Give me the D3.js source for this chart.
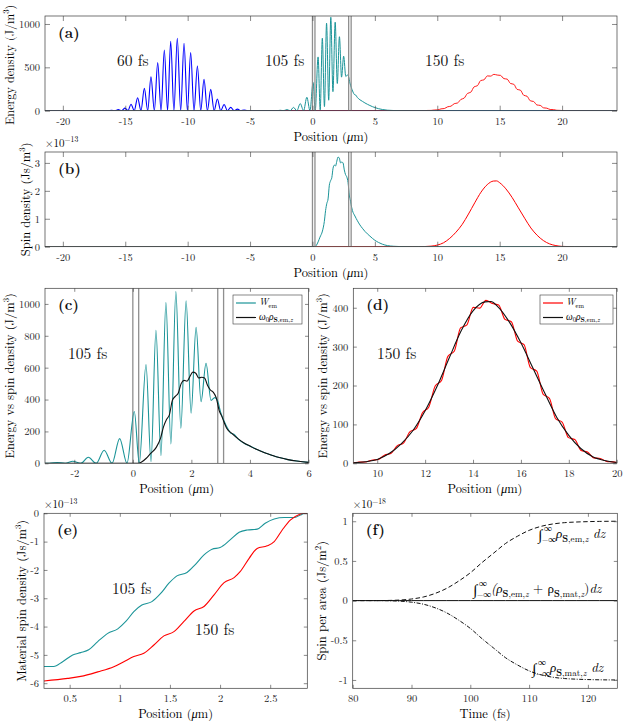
<!DOCTYPE html>
<html>
<head>
<meta charset="utf-8">
<script src="https://cdn.jsdelivr.net/npm/d3@7"></script>
<style>
  body { margin: 0; background: #fff; }
</style>
</head>
<body>
<svg id="fig" width="623" height="723"></svg>
<script>
// ---- data ----
// interfaces of the slab (um)
const interfaces = [0, 0.2, 2.9, 3.1];

// (a) energy density at 60 fs (J/m^3)
const pos60 = [-21.5, -16.6, -16.37, -16.1, -15.83, -15.56, -15.29, -15.02, -14.78, -14.54, -14.28, -14.01, -13.74, -13.47,
  -13.2, -12.94, -12.67, -12.4, -12.13, -11.87, -11.61, -11.36, -11.1, -10.83, -10.56, -10.29, -10.02, -9.76, -9.49,
  -9.22, -8.95, -8.69, -8.42, -8.15, -7.88, -7.62, -7.35, -7.08, -6.81, -6.55, -6.28, -6.01, -5.74, -5.48, -5.21, -4.9, 24.5];
const wem60 = [0, 0, 0, 4, 0, 12, 0, 30, 0, 75, 0, 150, 0, 258,
  0, 392, 0, 554, 0, 700, 0, 800, 0, 835, 0, 777, 0, 670, 0,
  515, 0, 362, 0, 246, 0, 135, 0, 72, 0, 38, 0, 18, 0, 8, 0, 0, 0];

// (a),(c) energy density at 105 fs (J/m^3)
const pos105 = [-21.5, -3.1, -2.85, -2.58, -2.31, -2.05, -1.78, -1.52, -1.25, -0.98, -0.71, -0.45, -0.2, 0.05, 0.22,
  0.45, 0.62, 0.79, 0.96, 1.13, 1.3, 1.47, 1.64, 1.82, 1.99, 2.16, 2.33, 2.5, 2.67, 2.8, 2.9, 3.0, 3.1, 3.25, 3.35,
  3.45, 3.6, 3.8, 4.0, 4.2, 4.4, 4.6, 4.8, 5.0, 5.3, 5.6, 6.0, 6.5, 7.0, 8.0, 24.5];
const wem105 = [0, 0, 0, 5, 0, 13, 0, 38, 0, 82, 0, 155, 0, 325, 0,
  620, 10, 835, 48, 1008, 121, 1077, 220, 1020, 314, 853, 387, 628, 395, 412, 390, 320, 272, 215, 188,
  182, 152, 126, 108, 90, 74, 60, 47, 36, 23, 14, 6, 2, 0.5, 0, 0];

// (c) omega0 * em spin density at 105 fs (J/m^3)
const pos105s = [-3.5, 0.2, 0.3, 0.45, 0.6, 0.8, 0.95, 1.05, 1.15, 1.25, 1.35, 1.45, 1.55, 1.65, 1.75, 1.85, 1.95, 2.05,
  2.15, 2.25, 2.35, 2.45, 2.55, 2.65, 2.75, 2.85, 2.95, 3.05, 3.1, 3.2, 3.4, 3.6, 3.8, 4.0, 4.2, 4.4, 4.6, 4.8, 5.0,
  5.3, 5.6, 6.0, 6.5];
const wspin105 = [0, 0, 8, 30, 60, 100, 160, 230, 275, 305, 395, 420, 440, 500, 520, 515, 545, 572,
  565, 535, 540, 535, 490, 460, 445, 410, 330, 290, 265, 222, 185, 153, 127, 108, 89, 74, 60, 47, 36,
  23, 14, 6, 2];

// (a),(d) energy density at 150 fs (J/m^3)
const pos150 = [-21.5, 8.7, 9.0, 9.24, 9.505, 9.77, 10.035, 10.3, 10.565, 10.83, 11.095, 11.36, 11.625, 11.89, 12.155,
  12.42, 12.685, 12.95, 13.215, 13.48, 13.745, 14.01, 14.275, 14.54, 14.805, 15.07, 15.335, 15.6, 15.865, 16.13,
  16.395, 16.66, 16.925, 17.19, 17.455, 17.72, 17.985, 18.25, 18.515, 18.78, 19.045, 19.31, 19.575, 19.84, 20.0,
  20.5, 24.5];
const wem150 = [0, 0, 1, 2.9, 3.3, 8, 9.6, 21, 25, 45, 52, 81, 89, 130, 145,
  199, 213, 275, 288, 348, 356, 401, 399, 419, 411, 407, 370, 364, 314, 305,
  246, 237, 178, 167, 114, 106, 66, 61, 33, 29, 14, 12.5, 5, 3.7, 2,
  0.5, 0];

// (d) omega0 * em spin density at 150 fs (J/m^3)
const pos150s = [9, 9.5, 10, 10.5, 11, 11.5, 12, 12.5, 13, 13.5, 14, 14.5, 14.75, 15, 15.5, 16, 16.5, 17, 17.5, 18,
  18.5, 19, 19.5, 20];
const wspin150 = [1, 4, 10, 25, 50, 85, 135, 198, 270, 340, 392, 415, 416, 405, 365, 310, 245, 180, 118, 72,
  38, 17, 7, 2];

// (b) em spin density (1e-13 Js/m^3)
const posS105 = [-21.5, 0.2, 0.3, 0.45, 0.6, 0.8, 0.95, 1.05, 1.15, 1.25, 1.35, 1.45, 1.55, 1.65, 1.75, 1.85, 1.95,
  2.05, 2.15, 2.25, 2.35, 2.45, 2.55, 2.65, 2.75, 2.85, 2.95, 3.05, 3.1, 3.2, 3.4, 3.6, 3.8, 4.0, 4.2, 4.4, 4.6, 4.8,
  5.0, 5.3, 5.6, 6.0, 6.5, 7.0, 8.0, 24.5];
const spin105 = [0, 0, 0.04, 0.17, 0.34, 0.56, 0.9, 1.29, 1.55, 1.71, 2.2, 2.36, 2.47, 2.81, 2.92, 2.89, 3.06,
  3.21, 3.17, 3.0, 3.03, 3.0, 2.75, 2.58, 2.5, 2.3, 1.85, 1.63, 1.5, 1.3, 1.1, 0.93, 0.78, 0.66, 0.55, 0.46, 0.38, 0.3,
  0.23, 0.15, 0.09, 0.04, 0.015, 0.005, 0, 0];
const posS150 = [-21.5, 0.2, 8.5, 9, 9.5, 10, 10.5, 11, 11.5, 12, 12.5, 13, 13.5, 14, 14.5, 14.75, 15, 15.5, 16, 16.5,
  17, 17.5, 18, 18.5, 19, 19.5, 20, 21, 24.5];
const spin150 = [0, 0, 0, 0.006, 0.02, 0.057, 0.14, 0.3, 0.52, 0.8, 1.17, 1.57, 1.95, 2.22, 2.35, 2.355, 2.29,
  2.07, 1.76, 1.39, 1.02, 0.67, 0.41, 0.22, 0.1, 0.04, 0.011, 0, 0];

// (e) material spin density (1e-13 Js/m^3)
const posMat105 = [0.244, 0.34, 0.43, 0.53, 0.61, 0.69, 0.78, 0.88, 0.98, 1.06, 1.14, 1.22, 1.32, 1.41, 1.49, 1.57,
  1.67, 1.75, 1.84, 1.92, 2.0, 2.1, 2.19, 2.27, 2.37, 2.45, 2.54, 2.64, 2.74, 2.8, 2.85, 2.87];
const mat105 = [-5.41, -5.41, -5.24, -5.0, -4.92, -4.82, -4.53, -4.24, -4.08, -3.82, -3.47, -3.24, -3.12, -2.82,
  -2.47, -2.21, -2.09, -1.82, -1.47, -1.27, -1.21, -0.94, -0.67, -0.59, -0.56, -0.35, -0.2, -0.15, -0.15, -0.06, 0, 0];
const posMat150 = [0.244, 0.48, 0.61, 0.78, 0.94, 1.04, 1.14, 1.24, 1.34, 1.44, 1.54, 1.64, 1.74, 1.84, 1.94, 2.04,
  2.14, 2.2, 2.29, 2.37, 2.47, 2.54, 2.62, 2.7, 2.79, 2.84, 2.87];
const mat150 = [-5.92, -5.83, -5.76, -5.6, -5.42, -5.24, -5.06, -4.94, -4.65, -4.33, -4.18, -3.82, -3.45, -3.29,
  -2.88, -2.45, -2.27, -2.06, -1.59, -1.24, -1.15, -1.0, -0.59, -0.24, -0.04, 0, 0];

// (f) spin per area vs time (1e-18 Js/m^2)
const timeF = [80, 84, 86, 88, 90, 92, 94, 96, 98, 100, 102, 104, 106, 108, 110, 112, 114, 116, 118, 120, 122, 125];
const emF = [0, 0, 0.002, 0.007, 0.02, 0.045, 0.09, 0.155, 0.245, 0.35, 0.48, 0.6, 0.72, 0.81, 0.885, 0.935, 0.965,
  0.982, 0.99, 0.995, 0.998, 1.0];
const matF = [0, 0, -0.002, -0.007, -0.02, -0.045, -0.09, -0.155, -0.245, -0.35, -0.48, -0.6, -0.72, -0.81, -0.885,
  -0.935, -0.965, -0.982, -0.99, -0.995, -0.998, -1.0];
const totF = [0, 0, 0, 0, 0, 0, 0, 0, 0, 0, 0, 0, 0, 0, 0, 0, 0, 0, 0, 0, 0, 0];

const posTicksWide = [-20, -15, -10, -5, 0, 5, 10, 15, 20];

// ---- styling ----
const FONT = '"Latin Modern Roman", "Liberation Serif", serif';
const BLUE = '#0000ff';
const TEAL = '#1b9498';
const RED = '#ff0000';
const FRAME = '#3a3a3a';
const TICK_FS = 10.5;
const LABEL_FS = 12.5;
const NOTE_FS = 15.5;

const svg = d3.select('#fig');

// text with sub/superscripts: parts = [[string, 'sub bold'], ...]
function rich(text, parts, size) {
  let shift = 0;
  parts.forEach(([s, k]) => {
    const f = (k || '').split(' ');
    let target = 0, fs = size;
    if (f.includes('sub')) { target = size * 0.3; fs = size * 0.7; }
    if (f.includes('sup')) { target = -size * 0.42; fs = size * 0.7; }
    const ts = text.append('tspan').text(s).attr('font-size', fs);
    if (target !== shift) ts.attr('dy', target - shift);
    shift = target;
    if (f.includes('i')) ts.attr('font-style', 'italic');
    if (f.includes('bold')) ts.attr('font-weight', 'bold');
  });
  return text;
}

function panel(o) {
  const [l, t, r, b] = o.box;
  const x = d3.scaleLinear().domain(o.xd).range([l, r]);
  const y = d3.scaleLinear().domain(o.yd).range([b, t]);
  const g = svg.append('g');
  const cid = 'clip-' + o.id;
  svg.append('clipPath').attr('id', cid)
    .append('rect').attr('x', l).attr('y', t).attr('width', r - l).attr('height', b - t);
  const plot = g.append('g').attr('clip-path', `url(#${cid})`);
  const axes = g.append('g');
  const tl = o.tick || 3.5;
  const fmt = d => String(d);

  axes.append('g').attr('transform', `translate(0,${b})`)
    .call(d3.axisBottom(x).tickValues(o.xt).tickSizeInner(-tl).tickSizeOuter(0).tickPadding(6.5).tickFormat(fmt));
  axes.append('g').attr('transform', `translate(0,${t})`)
    .call(d3.axisTop(x).tickValues(o.xt).tickSizeInner(-tl).tickSizeOuter(0).tickFormat(''));
  axes.append('g').attr('transform', `translate(${l},0)`)
    .call(d3.axisLeft(y).tickValues(o.yt).tickSizeInner(-tl).tickSizeOuter(0).tickPadding(5).tickFormat(fmt));
  axes.append('g').attr('transform', `translate(${r},0)`)
    .call(d3.axisRight(y).tickValues(o.yt).tickSizeInner(-tl).tickSizeOuter(0).tickFormat(''));
  axes.selectAll('.domain').remove();
  axes.selectAll('.tick line').attr('stroke', FRAME).attr('stroke-width', 0.6);
  axes.selectAll('.tick text').attr('font-size', TICK_FS).attr('fill', '#262626');
  axes.append('rect').attr('x', l).attr('y', t).attr('width', r - l).attr('height', b - t)
    .attr('fill', 'none').attr('stroke', FRAME).attr('stroke-width', 0.7);

  if (o.xlabel) {
    const tx = g.append('text').attr('x', (l + r) / 2).attr('y', b + 30)
      .attr('text-anchor', 'middle').attr('font-size', LABEL_FS);
    rich(tx, o.xlabel, LABEL_FS);
  }
  if (o.ylabel) {
    const ty = g.append('text')
      .attr('transform', `translate(${o.ylabelX},${(t + b) / 2 + (o.ylabelDy || 0)}) rotate(-90)`)
      .attr('text-anchor', 'middle').attr('font-size', o.ylabelFs || LABEL_FS);
    rich(ty, o.ylabel, o.ylabelFs || LABEL_FS);
  }
  if (o.exp) {
    const te = g.append('text').attr('x', l).attr('y', t - 5).attr('font-size', 11);
    rich(te, [['\u00d710', ''], [o.exp, 'sup']], 11);
  }
  g.append('text').attr('x', l + 13).attr('y', t + o.letterDy).attr('font-size', 15)
    .attr('font-weight', 'bold').attr('fill', '#111').text(o.letter);

  const line = d3.line().x(d => x(d[0])).y(d => y(d[1])).curve(d3.curveMonotoneX);
  const draw = (xs, ys, color, w, dash) => {
    plot.append('path').datum(d3.zip(xs, ys)).attr('d', line)
      .attr('fill', 'none').attr('stroke', color).attr('stroke-width', w || 1)
      .attr('stroke-linejoin', 'round').attr('stroke-dasharray', dash || null);
  };
  const vlines = () => {
    plot.selectAll(null).data(interfaces).join('line')
      .attr('x1', d => x(d)).attr('x2', d => x(d)).attr('y1', t).attr('y2', b)
      .attr('stroke', '#8f8f8f').attr('stroke-width', 1.3);
  };
  return { g, plot, x, y, draw, vlines };
}

const posLabel = [['Position (', ''], ['\u03bc', 'i'], ['m)', '']];

function note(g, x, y, s) {
  g.append('text').attr('x', x).attr('y', y).attr('font-size', NOTE_FS).attr('fill', '#111').text(s);
}

// ---- (a) ----
const pa = panel({
  id: 'a', box: [45, 16, 617, 110.7], xd: [-21.43, 24.4], yd: [0, 1092],
  xt: posTicksWide, yt: [0, 500, 1000], tick: 5,
  xlabel: posLabel,
  ylabel: [['Energy density (J/m', ''], ['3', 'sup'], [')', '']], ylabelX: 14, ylabelDy: 1.5, ylabelFs: 12.2,
  letter: '(a)', letterDy: 22
});
pa.draw(pos60, wem60, BLUE, 1.1);
pa.draw(pos150, wem150, RED, 0.9);
pa.draw(pos105, wem105, TEAL, 1);
pa.vlines();
note(pa.g, 117, 66, '60 fs');
note(pa.g, 265, 66, '105 fs');
note(pa.g, 425, 66, '150 fs');

// ---- (b) ----
const pb = panel({
  id: 'b', box: [45, 152, 617, 246.7], xd: [-21.43, 24.4], yd: [0, 3.39],
  xt: posTicksWide, yt: [0, 1, 2, 3], tick: 5,
  xlabel: posLabel,
  ylabel: [['Spin density (Js/m', ''], ['3', 'sup'], [')', '']], ylabelX: 30,
  exp: '\u221213', letter: '(b)', letterDy: 22
});
pb.draw(posS150, spin150, RED, 1);
pb.draw(posS105, spin105, TEAL, 1);
pb.vlines();

// ---- (c) ----
const pc = panel({
  id: 'c', box: [45, 288.3, 308.5, 463.3], xd: [-3, 6], yd: [0, 1098],
  xt: [-2, 0, 2, 4, 6], yt: [0, 200, 400, 600, 800, 1000],
  xlabel: posLabel,
  ylabel: [['Energy vs spin density (J/m', ''], ['3', 'sup'], [')', '']], ylabelX: 14,
  letter: '(c)', letterDy: 22
});
pc.vlines();
pc.draw(pos105, wem105, TEAL, 1.1);
pc.draw(pos105s, wspin105, '#111', 1.1);
note(pc.g, 68, 359, '105 fs');

// ---- (d) ----
const pd = panel({
  id: 'd', box: [353.3, 288.3, 616.7, 463.3], xd: [9, 20], yd: [0, 450],
  xt: [10, 12, 14, 16, 18, 20], yt: [0, 100, 200, 300, 400],
  xlabel: posLabel,
  ylabel: [['Energy vs spin density (J/m', ''], ['3', 'sup'], [')', '']], ylabelX: 327,
  letter: '(d)', letterDy: 22
});
pd.draw(pos150, wem150, RED, 1.1);
pd.draw(pos150s, wspin150, '#111', 1.1);
note(pd.g, 377, 359, '150 fs');

// legends
function legend(g, x0, y0, w, col) {
  g.append('rect').attr('x', x0).attr('y', y0).attr('width', w).attr('height', 29)
    .attr('fill', '#fff').attr('stroke', FRAME).attr('stroke-width', 0.6);
  const rows = [
    { c: col, y: y0 + 8, parts: [['W', 'i'], ['em', 'sub']] },
    { c: '#111', y: y0 + 22.5, parts: [['\u03c9', 'i'], ['0', 'sub'], ['\u03c1', 'i'], ['S', 'sub bold'], [',em,', 'sub'], ['z', 'sub i']] }
  ];
  rows.forEach(rw => {
    g.append('line').attr('x1', x0 + 3).attr('x2', x0 + 23).attr('y1', rw.y).attr('y2', rw.y)
      .attr('stroke', rw.c).attr('stroke-width', 1.2);
    const tx = g.append('text').attr('x', x0 + 26).attr('y', rw.y + 2).attr('font-size', 9.5);
    rich(tx, rw.parts, 9.5);
  });
}
legend(pc.g, 233, 295, 69, TEAL);
legend(pd.g, 540, 295, 73, RED);

// ---- (e) ----
const pe = panel({
  id: 'e', box: [44, 513.3, 307.3, 688.3], xd: [0.244, 2.87], yd: [-6.18, 0],
  xt: [0.5, 1, 1.5, 2, 2.5], yt: [-6, -5, -4, -3, -2, -1, 0],
  xlabel: posLabel,
  ylabel: [['Material spin density (Js/m', ''], ['3', 'sup'], [')', '']], ylabelX: 26,
  exp: '\u221213', letter: '(e)', letterDy: 22
});
pe.draw(posMat105, mat105, TEAL, 1.1);
pe.draw(posMat150, mat150, RED, 1.1);
note(pe.g, 112, 594, '105 fs');
note(pe.g, 195, 635, '150 fs');

// ---- (f) ----
const pf = panel({
  id: 'f', box: [352.7, 513.3, 617.3, 688.3], xd: [80, 125], yd: [-1.105, 1.1],
  xt: [80, 90, 100, 110, 120], yt: [-1, -0.5, 0, 0.5, 1],
  xlabel: [['Time (fs)', '']],
  ylabel: [['Spin per area (Js/m', ''], ['2', 'sup'], [')', '']], ylabelX: 326,
  exp: '\u221218', letter: '(f)', letterDy: 22
});
pf.draw(timeF, totF, '#111', 1);
pf.draw(timeF, emF, '#111', 1, '4.5,2.5');
pf.draw(timeF, matF, '#111', 1, '4,1.5,1,1.5');

function integral(g, x0, y0, parts) {
  g.append('text').attr('x', x0).attr('y', y0 + 2).attr('font-size', 15).text('\u222b');
  g.append('text').attr('x', x0 + 6).attr('y', y0 - 7).attr('font-size', 8).text('\u221e');
  g.append('text').attr('x', x0 + 4).attr('y', y0 + 4).attr('font-size', 8).text('\u2212\u221e');
  const tx = g.append('text').attr('x', x0 + 18).attr('y', y0).attr('font-size', 13);
  rich(tx, parts, 13);
}
integral(pf.g, 538, 538, [['\u03c1', 'i'], ['S', 'sub bold'], [',em,', 'sub'], ['z', 'sub i'], [' dz', 'i']]);
integral(pf.g, 473, 593, [['(\u03c1', 'i'], ['S', 'sub bold'], [',em,', 'sub'], ['z', 'sub i'], [' + \u03c1', ''],
  ['S', 'sub bold'], [',mat,', 'sub'], ['z', 'sub i'], [')', ''], ['dz', 'i']]);
integral(pf.g, 532, 672, [['\u03c1', 'i'], ['S', 'sub bold'], [',mat,', 'sub'], ['z', 'sub i'], [' dz', 'i']]);

// one font for every text, set inline so the axis defaults do not win
svg.selectAll('text').style('font-family', FONT);
</script>
</body>
</html>
